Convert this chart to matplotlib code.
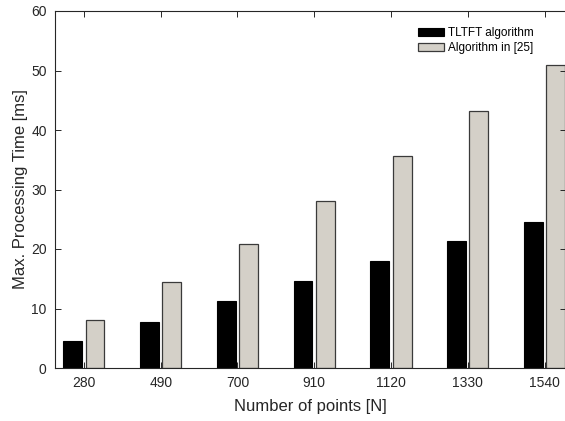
import matplotlib
matplotlib.use('Agg')
import matplotlib.pyplot as plt
import numpy as np

plt.rcParams['font.family'] = ['Liberation Sans', 'DejaVu Sans']

points = ['280', '490', '700', '910', '1120', '1330', '1540']
tltft = [4.6, 7.8, 11.3, 14.7, 18.0, 21.3, 24.6]
ref25 = [8.1, 14.4, 20.8, 28.1, 35.7, 43.2, 51.0]

axis_col = '#262626'
grey = '#d4d0c8'

fig = plt.figure(figsize=(5.65, 4.21), dpi=100)
ax = fig.add_axes([55 / 565, 1 - 368 / 421, 511 / 565, 357 / 421])

x = np.arange(len(points))
w = 0.245
off = 0.145
ax.bar(x - off, tltft, w, color='black', edgecolor='black', linewidth=0.8,
       label='TLTFT algorithm')
ax.bar(x + off, ref25, w, color=grey, edgecolor='#3a3a3a', linewidth=0.9,
       label='Algorithm in [25]')

ax.set_xlim(-0.377, 6.28)
ax.set_ylim(0, 60)
ax.set_xticks(x)
ax.set_xticklabels(points)
ax.set_yticks(np.arange(0, 61, 10))

ax.tick_params(direction='in', length=4, width=0.7, top=True, right=True,
               labelsize=10, colors=axis_col, pad=6)
for s in ax.spines.values():
    s.set_color(axis_col)
    s.set_linewidth(0.8)

ax.set_xlabel('Number of points [N]', fontsize=12, color=axis_col, labelpad=6.5)
ax.set_ylabel('Max. Processing Time [ms]', fontsize=12, color=axis_col, labelpad=2.5)

ax.legend(loc='upper left', bbox_to_anchor=(418 / 565, 1 - 27 / 421),
          bbox_transform=fig.transFigure, frameon=False, fontsize=8.5,
          borderpad=0, borderaxespad=0, handlelength=2.2, handleheight=0.75,
          handletextpad=0.3, labelspacing=0.25)

fig.savefig('out.png', dpi=100)
